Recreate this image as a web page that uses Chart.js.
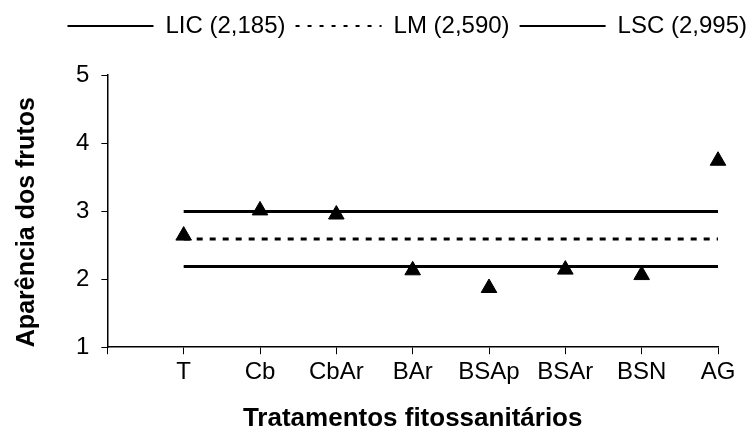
<!DOCTYPE html>
<html lang="pt">
  <head>
    <meta charset="UTF-8" />
    <title>Aparência dos frutos</title>
    <style>
      body {
        margin: 0;
        background-color: #ffffff;
      }
      .chart-container {
        width: 747px;
        height: 432px;
      }
    </style>
    <script src="https://cdn.jsdelivr.net/npm/chart.js"></script>
  </head>
  <body>
    <div class="chart-container">
      <canvas id="chart"></canvas>
    </div>

    <script>
      // categories on the x axis (first slot left empty, as in the original)
      const categories = ["", "T", "Cb", "CbAr", "BAr", "BSAp", "BSAr", "BSN", "AG"];
      // fruit appearance per treatment
      const appearance = [2.64, 3.01, 2.95, 2.13, 1.87, 2.14, 2.06, 3.74];
      // control limits
      const limitNames = ["LIC (2,185)", "LM (2,590)", "LSC (2,995)"];
      const limitValues = [2.185, 2.59, 2.995];
      const limitDash = [[], [6, 7], []];
      const legendDash = [[], [4, 8], []];

      const font = "'Liberation Sans', Arial, sans-serif";

      // limit lines span from the first to the last treatment
      const limitSets = limitValues.map(function (v, i) {
        return {
          label: limitNames[i],
          data: [
            { x: 1, y: v },
            { x: appearance.length, y: v },
          ],
          showLine: true,
          borderColor: "#000",
          borderWidth: 3,
          borderDash: limitDash[i],
          pointRadius: 0,
          order: 1,
        };
      });

      const points = {
        label: "Aparência",
        data: appearance.map(function (v, i) {
          return { x: i + 1, y: v };
        }),
        pointStyle: "triangle",
        pointRadius: 9,
        backgroundColor: "#000",
        borderColor: "#000",
        borderWidth: 1,
        clip: false,
        order: 0,
      };

      // the legend sits in the top strip, pushed against the right edge
      const legendPlace = {
        id: "legendPlace",
        afterLayout: function (chart) {
          const lg = chart.legend;
          const dx = chart.width + 10 - lg.right;
          const dy = 4 - lg.top;
          lg.left += dx;
          lg.right += dx;
          lg.top += dy;
          lg.bottom += dy;
        },
      };

      new Chart(document.getElementById("chart"), {
        type: "scatter",
        data: { datasets: limitSets.concat([points]) },
        plugins: [legendPlace],
        options: {
          responsive: true,
          maintainAspectRatio: false,
          animation: false,
          layout: { padding: { left: 4, right: 29, top: 31, bottom: 0 } },
          plugins: {
            tooltip: { enabled: false },
            legend: {
              position: "top",
              align: "end",
              labels: {
                color: "#000",
                font: { family: font, size: 24 },
                usePointStyle: true,
                pointStyleWidth: 86,
                boxHeight: 24,
                padding: 10,
                generateLabels: function () {
                  return limitNames.map(function (name, i) {
                    return {
                      text: name,
                      pointStyle: "line",
                      strokeStyle: "#000",
                      fillStyle: "#000",
                      lineWidth: 2,
                      lineDash: legendDash[i],
                      datasetIndex: i,
                    };
                  });
                },
              },
            },
          },
          scales: {
            x: {
              type: "linear",
              min: 0,
              max: categories.length - 1,
              grid: {
                drawOnChartArea: false,
                drawTicks: true,
                tickLength: 7,
                color: "#000",
              },
              border: { color: "#000", width: 1.5 },
              ticks: {
                stepSize: 1,
                autoSkip: false,
                maxRotation: 0,
                color: "#000",
                padding: 4,
                font: { family: font, size: 24 },
                callback: function (value) {
                  return categories[value];
                },
              },
              title: {
                display: true,
                text: "Tratamentos fitossanitários",
                color: "#000",
                font: { family: font, size: 26, weight: "bold", lineHeight: 1 },
                padding: { top: 15, bottom: 0 },
              },
            },
            y: {
              min: 1,
              max: 5,
              grid: {
                drawOnChartArea: false,
                drawTicks: true,
                tickLength: 6,
                color: "#000",
              },
              border: { color: "#000", width: 1.5 },
              ticks: {
                stepSize: 1,
                color: "#000",
                padding: 12,
                font: { family: font, size: 24 },
              },
              title: {
                display: true,
                text: "Aparência dos frutos",
                align: "start",
                color: "#000",
                font: { family: font, size: 25, weight: "bold" },
                padding: { top: 8, bottom: 22 },
              },
            },
          },
        },
      });
    </script>
  </body>
</html>
